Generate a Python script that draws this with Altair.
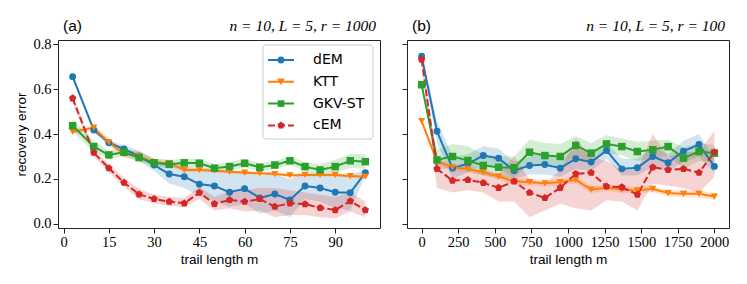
import altair as alt
import pandas as pd

series = ["dEM", "KTT", "GKV-ST", "cEM"]
colors = ["#1f77b4", "#ff7f0e", "#2ca02c", "#d62728"]
shapes = ["circle", "triangle-down", "square",
          "M0,-1L0.951,-0.309L0.588,0.809L-0.588,0.809L-0.951,-0.309Z"]
dashes = [[1, 0], [1, 0], [1, 0], [7, 3]]

panel_labels = ["(a)", "(b)"]
panel_params = ["n = 10, L = 5, r = 1000", "n = 10, L = 5, r = 100"]

# ---------------- panel (a) ----------------
m_a = [3, 10, 15, 20, 25, 30, 35, 40, 45, 50, 55, 60, 65, 70, 75, 80, 85, 90, 95, 100]
dem_a = [0.655, 0.418, 0.361, 0.333, 0.302, 0.262, 0.222, 0.21, 0.177, 0.169, 0.141, 0.157, 0.116, 0.133, 0.107, 0.169, 0.16, 0.141, 0.139, 0.228]
dem_a_hi = [0.665, 0.428, 0.372, 0.35, 0.325, 0.29, 0.265, 0.255, 0.245, 0.24, 0.23, 0.235, 0.215, 0.22, 0.2, 0.225, 0.225, 0.22, 0.22, 0.24]
dem_a_lo = [0.645, 0.408, 0.35, 0.316, 0.28, 0.235, 0.18, 0.16, 0.125, 0.1, 0.075, 0.09, 0.045, 0.06, 0.03, 0.11, 0.1, 0.07, 0.06, 0.215]
ktt_a = [0.41, 0.428, 0.363, 0.311, 0.302, 0.272, 0.27, 0.24, 0.24, 0.237, 0.232, 0.228, 0.225, 0.222, 0.216, 0.218, 0.218, 0.218, 0.213, 0.21]
ktt_a_hi = [0.42, 0.44, 0.38, 0.33, 0.325, 0.29, 0.285, 0.255, 0.25, 0.245, 0.24, 0.236, 0.232, 0.23, 0.224, 0.226, 0.226, 0.226, 0.222, 0.22]
ktt_a_lo = [0.4, 0.416, 0.348, 0.295, 0.285, 0.258, 0.258, 0.228, 0.23, 0.228, 0.224, 0.22, 0.218, 0.214, 0.208, 0.21, 0.21, 0.21, 0.204, 0.2]
gkv_a = [0.437, 0.344, 0.307, 0.319, 0.295, 0.272, 0.265, 0.272, 0.27, 0.248, 0.255, 0.27, 0.252, 0.262, 0.281, 0.255, 0.24, 0.255, 0.281, 0.277]
gkv_a_hi = [0.465, 0.37, 0.325, 0.34, 0.315, 0.29, 0.285, 0.29, 0.29, 0.265, 0.275, 0.29, 0.27, 0.28, 0.3, 0.275, 0.265, 0.285, 0.31, 0.31]
gkv_a_lo = [0.41, 0.32, 0.29, 0.3, 0.278, 0.255, 0.248, 0.255, 0.25, 0.232, 0.238, 0.25, 0.234, 0.244, 0.262, 0.235, 0.215, 0.225, 0.25, 0.245]
cem_a = [0.559, 0.317, 0.248, 0.184, 0.132, 0.111, 0.099, 0.092, 0.139, 0.089, 0.107, 0.099, 0.111, 0.077, 0.092, 0.088, 0.072, 0.062, 0.102, 0.062]
cem_a_hi = [0.575, 0.33, 0.265, 0.205, 0.155, 0.13, 0.12, 0.115, 0.165, 0.12, 0.145, 0.15, 0.16, 0.16, 0.15, 0.14, 0.13, 0.12, 0.14, 0.1]
cem_a_lo = [0.54, 0.3, 0.23, 0.165, 0.11, 0.092, 0.08, 0.075, 0.11, 0.06, 0.07, 0.055, 0.06, 0.03, 0.04, 0.04, 0.03, 0.025, 0.055, 0.03]

# ---------------- panel (b) ----------------
m_b = [0, 105, 211, 316, 421, 526, 632, 737, 842, 947, 1053, 1158, 1263, 1368, 1474, 1579, 1684, 1789, 1895, 2000]
dem_b = [0.746, 0.412, 0.248, 0.268, 0.304, 0.292, 0.237, 0.26, 0.264, 0.248, 0.29, 0.275, 0.327, 0.245, 0.25, 0.3, 0.272, 0.324, 0.353, 0.256]
dem_b_hi = [0.756, 0.46, 0.3, 0.31, 0.345, 0.335, 0.275, 0.3, 0.32, 0.29, 0.335, 0.31, 0.36, 0.29, 0.29, 0.34, 0.31, 0.37, 0.4, 0.29]
dem_b_lo = [0.736, 0.36, 0.2, 0.23, 0.26, 0.25, 0.2, 0.22, 0.22, 0.21, 0.245, 0.235, 0.29, 0.215, 0.215, 0.255, 0.235, 0.275, 0.3, 0.225]
ktt_b = [0.457, 0.279, 0.252, 0.245, 0.23, 0.211, 0.19, 0.186, 0.181, 0.186, 0.196, 0.153, 0.161, 0.153, 0.149, 0.156, 0.137, 0.134, 0.134, 0.122]
ktt_b_hi = [0.467, 0.295, 0.268, 0.26, 0.245, 0.226, 0.205, 0.2, 0.196, 0.2, 0.21, 0.168, 0.176, 0.168, 0.164, 0.17, 0.152, 0.15, 0.15, 0.138]
ktt_b_lo = [0.447, 0.264, 0.237, 0.23, 0.215, 0.196, 0.175, 0.171, 0.166, 0.171, 0.181, 0.138, 0.146, 0.138, 0.134, 0.141, 0.122, 0.118, 0.118, 0.106]
gkv_b = [0.619, 0.285, 0.3, 0.282, 0.26, 0.252, 0.25, 0.319, 0.304, 0.3, 0.349, 0.315, 0.356, 0.344, 0.322, 0.33, 0.344, 0.293, 0.322, 0.315]
gkv_b_hi = [0.629, 0.33, 0.355, 0.345, 0.31, 0.3, 0.3, 0.375, 0.36, 0.355, 0.39, 0.36, 0.395, 0.38, 0.365, 0.37, 0.375, 0.34, 0.36, 0.35]
gkv_b_lo = [0.609, 0.24, 0.25, 0.235, 0.215, 0.205, 0.205, 0.27, 0.255, 0.25, 0.305, 0.27, 0.315, 0.305, 0.28, 0.29, 0.305, 0.245, 0.28, 0.275]
cem_b = [0.731, 0.245, 0.193, 0.196, 0.183, 0.161, 0.189, 0.139, 0.116, 0.161, 0.223, 0.228, 0.167, 0.164, 0.131, 0.252, 0.241, 0.245, 0.228, 0.319]
cem_b_hi = [0.74, 0.3, 0.25, 0.24, 0.24, 0.22, 0.3, 0.2, 0.18, 0.24, 0.38, 0.3, 0.28, 0.24, 0.24, 0.4, 0.3, 0.32, 0.32, 0.415]
cem_b_lo = [0.72, 0.16, 0.14, 0.15, 0.14, 0.1, 0.1, 0.03, 0.06, 0.09, 0.07, 0.06, 0.105, 0.1, 0.06, 0.18, 0.17, 0.16, 0.14, 0.21]

x_ticks_a = [0, 15, 30, 45, 60, 75, 90]
x_ticks_b = [0, 250, 500, 750, 1000, 1250, 1500, 1750, 2000]
y_ticks = [0.0, 0.2, 0.4, 0.6, 0.8]

W, H = 322, 188
SERIF = "Liberation Serif"
SANS = "Liberation Sans"
sizes = [48, 60, 44, 58]


def long_table(m, vals, los, his):
    rows = []
    for s, v, lo, hi in zip(series, vals, los, his):
        for mi, vi, l, h in zip(m, v, lo, hi):
            rows.append({"series": s, "m": mi, "value": vi, "lo": l, "hi": h})
    return pd.DataFrame(rows)


df_a = long_table(m_a, [dem_a, ktt_a, gkv_a, cem_a],
                  [dem_a_lo, ktt_a_lo, gkv_a_lo, cem_a_lo],
                  [dem_a_hi, ktt_a_hi, gkv_a_hi, cem_a_hi])
df_b = long_table(m_b, [dem_b, ktt_b, gkv_b, cem_b],
                  [dem_b_lo, ktt_b_lo, gkv_b_lo, cem_b_lo],
                  [dem_b_hi, ktt_b_hi, gkv_b_hi, cem_b_hi])

color_enc = alt.Color("series:N", scale=alt.Scale(domain=series, range=colors), legend=None)
shape_enc = alt.Shape("series:N", scale=alt.Scale(domain=series, range=shapes), legend=None)
dash_enc = alt.StrokeDash("series:N", scale=alt.Scale(domain=series, range=dashes), legend=None)
size_enc = alt.Size("series:N", scale=alt.Scale(domain=series, range=sizes), legend=None)


def panel(df, xdom, xticks, show_ylabels, label, params, with_legend):
    yscale = alt.Scale(domain=[-0.018, 0.818], nice=False, zero=False)
    xscale = alt.Scale(domain=xdom, nice=False, zero=False)
    xaxis = alt.Axis(values=xticks, format="d", title="trail length m")
    if show_ylabels:
        yaxis = alt.Axis(values=y_ticks, format=".1f", title="recovery error")
    else:
        yaxis = alt.Axis(values=y_ticks, labels=False, title=None)
    base = alt.Chart(df)
    x = alt.X("m:Q", scale=xscale, axis=xaxis)
    band = base.mark_area(opacity=0.2).encode(
        x=x, y=alt.Y("lo:Q", scale=yscale, axis=yaxis), y2="hi:Q",
        color=color_enc, detail="series:N")
    line = base.mark_line(strokeWidth=2).encode(
        x=x, y=alt.Y("value:Q", scale=yscale, axis=yaxis),
        color=color_enc, strokeDash=dash_enc, detail="series:N")
    pts = base.mark_point(filled=True, opacity=1).encode(
        x=x, y=alt.Y("value:Q", scale=yscale, axis=yaxis),
        color=color_enc, shape=shape_enc, size=size_enc)
    one = pd.DataFrame({"t": [label], "p": [params]})
    t_left = alt.Chart(one).mark_text(align="left", baseline="alphabetic", font=SANS,
                                      fontSize=15.5, color="black").encode(
        x=alt.value(5), y=alt.value(-9), text="t:N")
    t_right = alt.Chart(one).mark_text(align="right", baseline="alphabetic", font=SERIF,
                                       fontSize=15.5, fontStyle="italic", color="black").encode(
        x=alt.value(W - 4), y=alt.value(-9), text="p:N")
    layers = [band, line, pts, t_left, t_right]
    if with_legend:
        box = alt.Chart(pd.DataFrame({"k": [0]})).mark_rect(
            fill="white", fillOpacity=0.8, stroke="#cccccc", strokeWidth=1, cornerRadius=3).encode(
            x=alt.value(W - 117), x2=alt.value(W - 7), y=alt.value(5), y2=alt.value(99))
        layers.append(box)
        for i, (s, c, sh, d, sz) in enumerate(zip(series, colors, shapes, dashes, sizes)):
            yy = 20 + i * 21.8
            d1 = pd.DataFrame({"name": [s]})
            rl = alt.Chart(d1).mark_rule(color=c, strokeWidth=2, strokeDash=d).encode(
                x=alt.value(W - 112), x2=alt.value(W - 86), y=alt.value(yy))
            pt = alt.Chart(d1).mark_point(filled=True, size=sz, opacity=1, color=c, shape=sh).encode(
                x=alt.value(W - 99), y=alt.value(yy))
            tx = alt.Chart(d1).mark_text(align="left", baseline="middle", font="DejaVu Sans",
                                         fontSize=14, color="black").encode(
                x=alt.value(W - 67), y=alt.value(yy), text="name:N")
            layers += [rl, pt, tx]
    return alt.layer(*layers).properties(width=W, height=H)


pa = panel(df_a, [-1.85, 104.85], x_ticks_a, True, panel_labels[0], panel_params[0], True)
pb = panel(df_b, [-100, 2100], x_ticks_b, False, panel_labels[1], panel_params[1], False)

chart = alt.hconcat(pa, pb, spacing=20).resolve_scale(x="independent").properties(
    padding={"left": 6, "top": 10, "right": 5, "bottom": 5}
).configure_view(
    stroke="#222222", strokeWidth=1
).configure_axis(
    domain=False, grid=False, tickColor="#222222", tickSize=5, tickWidth=1,
    labelFont=SERIF, labelFontSize=14.5, labelColor="black", labelPadding=2,
    titleFont=SANS, titleFontSize=13.5, titleFontWeight="normal", titleColor="black",
    titlePadding=4
)

chart.save("out.html", embed_options={"renderer": "svg", "actions": False})
